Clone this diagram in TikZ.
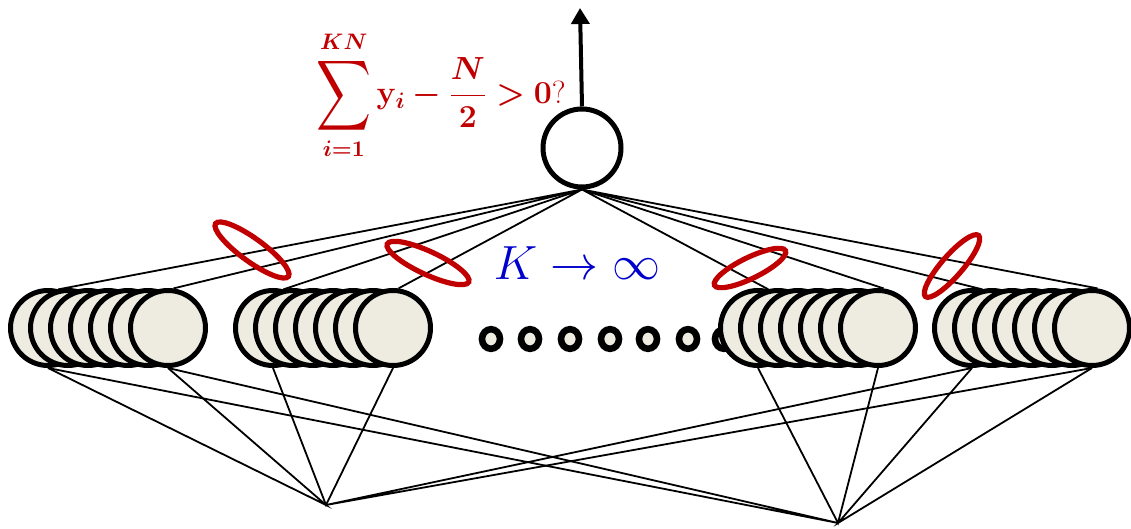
\RequirePackage{fix-cm}
\documentclass[tikz,border=0pt]{standalone}
\usepackage{amsmath,bm}
\usetikzlibrary{arrows.meta,shapes.geometric,backgrounds}
\definecolor{wrong}{HTML}{C00000}
\definecolor{cream}{HTML}{EEECE1}
\definecolor{kblue}{HTML}{0000CC}

\tikzset{
  unit/.style={circle,draw,line width=2.5pt,fill=cream,
    minimum size=37.5pt,inner sep=0pt},
  dotunit/.style={ellipse,draw,line width=3.3pt,fill=cream,
    minimum width=9pt,minimum height=9.8pt,inner sep=0pt},
  wire/.style={line width=0.9pt},
  bundle/.style={ellipse,draw=wrong,line width=2.6pt,inner sep=0pt},
  votefont/.style={text=wrong,font=\fontsize{16}{19}\selectfont},
}

\begin{document}
\begin{tikzpicture}[x=0.5pt,y=-0.5pt]
  \useasboundingbox (0,0) rectangle (1131,529);
  % output unit and its answer
  \node[circle,draw,line width=2.5pt,minimum size=39pt,inner sep=0pt] (top) at (582,148) {};
  \coordinate (out) at (580,8);
  \draw[line width=2pt,-{Triangle[width=9pt,length=8pt]}] (top.north) -- (out);
  \node[votefont] (vote) at (441,95)
    {$\displaystyle\mathop{\vcenter{\hbox{\scalebox{1.1}[1.42]{$\displaystyle\sum$}}}}\limits_{\bm{i=1}}^{\bm{KN}}
      \mathbf{y}_{\bm{i}}\bm{-}\bm{\frac{N}{2}}\bm{>}\mathbf{0}$?};

  % the dots stand for the groups in between
  \foreach \x [count=\i] in {491,530,570,610,648,688,724}
    \node[dotunit] (d\i) at (\x,339) {};

  % four groups of seven hidden units, 20 px apart
  \foreach \g/\x in {1/48,2/273,3/758,4/972}{
    \foreach \k in {1,...,7}
      \node[unit] (g\g-\k) at (\x+20*\k-20,328) {};
  }

  \begin{scope}[on background layer]
    \foreach \g in {1,...,4}
      \draw[wire] (top.south) -- (g\g-1.75) (top.south) -- (g\g-7.82);
    \coordinate (sa) at (326,505);
    \coordinate (sb) at (838,523);
    \foreach \g/\s in {1/sa,1/sb,2/sa,3/sb,4/sa,4/sb}
      \draw[wire] (g\g-1.south) -- (\s) -- (g\g-7.south);
  \end{scope}

  % red loops round the bundles of weights
  \node[bundle,rotate=-36,minimum width=45pt,minimum height=11.5pt] (e1) at (252,250) {};
  \node[bundle,rotate=-25,minimum width=45pt,minimum height=11.5pt] (e2) at (428,263) {};
  \node[bundle,rotate=26,minimum width=39.5pt,minimum height=10.5pt] (e3) at (750,268) {};
  \node[bundle,rotate=49,minimum width=40.5pt,minimum height=10.5pt] (e4) at (952,266) {};

  \node[text=kblue,font=\fontsize{24}{28}\selectfont] (lim) at (577,263) {$K\to\infty$};
\end{tikzpicture}
\end{document}
